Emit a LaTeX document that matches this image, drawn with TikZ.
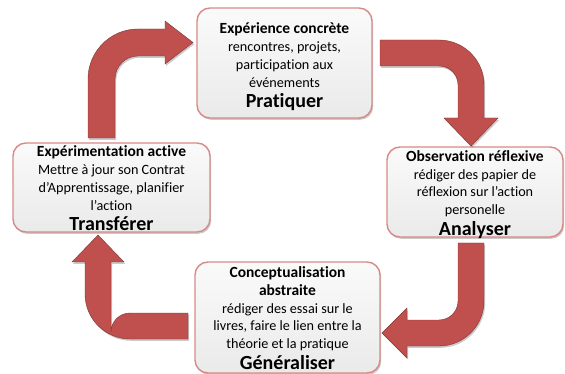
\documentclass[tikz,border=0pt]{standalone}
\usepackage{fontspec}
\setmainfont[Ligatures={NoCommon}]{Carlito}
\usetikzlibrary{shadows}
\definecolor{arrowred}{HTML}{C0504D}
\definecolor{arrowedge}{HTML}{7F3533}
\definecolor{boxedge}{HTML}{D88A88}
\definecolor{boxtop}{HTML}{FAFAFA}
\definecolor{boxbot}{HTML}{EAEAEA}
\tikzset{
  stagebox/.style={draw=boxedge, line width=1.4pt, rounded corners=13pt,
    top color=boxtop, bottom color=boxbot, inner sep=0pt,
    drop shadow={shadow xshift=1.2pt, shadow yshift=-1.8pt, opacity=0.35, fill=black!60}},
  stagetext/.style={align=center, inner sep=0pt, font=\fontsize{14.2}{17.7}\selectfont},
  bentarrow/.style={fill=arrowred, draw=arrowedge, line width=0.4pt,
    drop shadow={shadow xshift=1.2pt, shadow yshift=-1.8pt, opacity=0.35, fill=black!60}},
}
\newcommand{\ttlword}[1]{{\bfseries\fontsize{15.5}{17.7}\selectfont #1}}
\newcommand{\bigword}[1]{{\bfseries\fontsize{20}{17.7}\selectfont #1}}
\begin{document}
\begin{tikzpicture}[x=1pt,y=-1pt]
\useasboundingbox (0,0) rectangle (565,374);

% boxes
\node[stagebox, minimum width=175pt, minimum height=110pt] (top) at (284.5,63) {};
\node[stagebox, minimum width=176pt, minimum height=90pt] (right) at (475,192) {};
\node[stagebox, minimum width=185pt, minimum height=111pt] (bottom) at (287.5,317.5) {};
\node[stagebox, minimum width=197pt, minimum height=89pt] (left) at (111.5,187.5) {};

\node[stagetext] (toptext) at ([yshift=-4pt]top.center)
  {\ttlword{Expérience concrète}\\ rencontres, projets,\\ participation aux\\ événements\\[3pt] \bigword{Pratiquer}};
\node[stagetext] (righttext) at ([yshift=-2.5pt]right.center)
  {\ttlword{Observation réflexive}\\ rédiger des papier de\\ réflexion sur l’action\\ personelle\\[3pt] \bigword{Analyser}};
\node[stagetext] (bottomtext) at ([yshift=-0.5pt]bottom.center)
  {\ttlword{Conceptualisation}\\ \ttlword{abstraite}\\ rédiger des essai sur le\\ livres, faire le lien entre la\\ théorie et la pratique\\[3pt] \bigword{Généraliser}};
\node[stagetext] (lefttext) at ([yshift=-1pt]left.center)
  {\ttlword{Expérimentation active}\\ Mettre à jour son Contrat\\ d’Apprentissage, planifier\\ l’action\\[3pt] \bigword{Transférer}};

% arrow: left -> top
\path[bentarrow] (88,138) -- (88,79) arc[start angle=180, end angle=270, radius=50]
  -- (165,29) -- (165,21) -- (193,42.5) -- (165,64) -- (165,56) -- (138,56)
  arc[start angle=270, end angle=180, radius=23] -- (115,138) -- cycle;

% arrow: top -> right
\path[bentarrow] (380,40) -- (439,40) arc[start angle=270, end angle=360, radius=45]
  -- (484,118) -- (498,118) -- (471,146) -- (444,118) -- (458,118) -- (458,85)
  arc[start angle=0, end angle=-90, radius=19] -- (380,66) -- cycle;

% arrow: right -> bottom
\path[bentarrow] (484,243) -- (484,301) arc[start angle=0, end angle=90, radius=45]
  -- (407,346) -- (407,358) -- (382,333) -- (407,308) -- (407,320) -- (439,320)
  arc[start angle=90, end angle=0, radius=19] -- (458,243) -- cycle;

% arrow: bottom -> left
\path[bentarrow] (188,313) -- (130,313) arc[start angle=270, end angle=180, radius=19]
  -- (111,262) -- (124,262) -- (98,235) -- (72,262) -- (85,262) -- (85,294)
  arc[start angle=180, end angle=90, radius=45] -- (188,339) -- cycle;
\end{tikzpicture}
\end{document}
